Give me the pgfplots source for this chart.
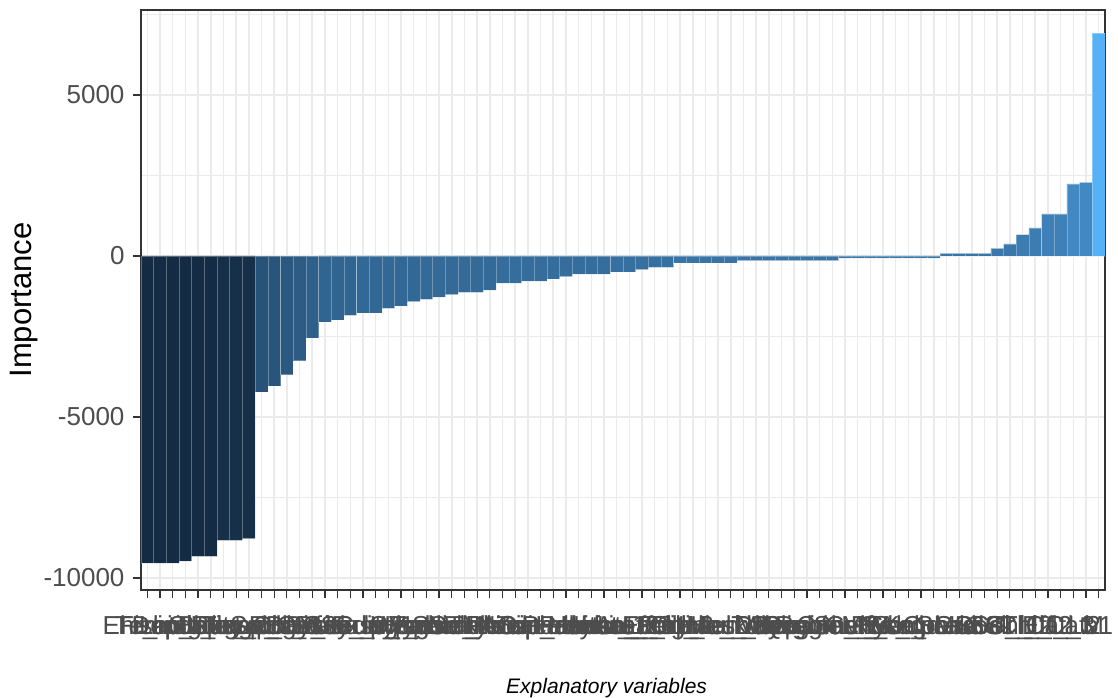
\documentclass[border=0pt]{standalone}
\usepackage{fontspec}
\setmainfont{Liberation Sans}
\usepackage{pgfplots}
\pgfplotsset{compat=1.18}
\definecolor{tickgray}{HTML}{4D4D4D}
\definecolor{gridgray}{HTML}{EBEBEB}
\definecolor{framegray}{HTML}{333333}
% fill colours taken along the low-high gradient, by value
\definecolor{g1}{RGB}{19,44,68}
\definecolor{g2}{RGB}{22,48,74}
\definecolor{g3}{RGB}{40,83,121}
\definecolor{g4}{RGB}{40,85,123}
\definecolor{g5}{RGB}{42,88,127}
\definecolor{g6}{RGB}{44,91,131}
\definecolor{g7}{RGB}{46,96,139}
\definecolor{g8}{RGB}{48,101,145}
\definecolor{g9}{RGB}{50,104,149}
\definecolor{g10}{RGB}{51,106,152}
\definecolor{g11}{RGB}{53,109,156}
\definecolor{g12}{RGB}{54,112,160}
\definecolor{g13}{RGB}{56,116,166}
\definecolor{g14}{RGB}{57,118,168}
\definecolor{g15}{RGB}{58,120,171}
\definecolor{g16}{RGB}{60,124,176}
\definecolor{g17}{RGB}{62,128,183}
\definecolor{g18}{RGB}{66,136,194}
\definecolor{g19}{RGB}{86,177,247}
\pgfplotsset{gbar/.style={ybar, bar width=1, bar shift=0pt, draw=white, draw opacity=0.3, line width=0.6pt, fill=#1}}
\begin{document}
\begin{tikzpicture}
\begin{axis}[
  at={(0pt,0pt)}, anchor=south west,
  scale only axis, width=964pt, height=580pt,
  xmin=0.5, xmax=76.5, ymin=-10374, ymax=7640,
  scaled y ticks=false,
  xtick={1,...,76},
  xticklabels={Ehr\_ind,Fishing,Temp\_bot,Latitude,Depth\_max,Bathy,Slope\_sd,Rugged,Dist\_port,Temp\_surf,Sal\_bot,Chl\_a,Rugosity,Bay\_idx,Year,CPUE\_lag,Biomass\_1,Gear\_type,Sediment,Curr\_spd,Wind,Oxygen,pH\_mean,Turbidity,Vessel\_len,Month,SST\_anom,NAO,Precip,Nitrate,Phosphate,Silicate,Zoo\_dens,Prey,Predators,Habitat\_1,Habitat\_2,Habitat\_3,Lon\_cell,Lat\_cell,Area\_km2,Effort\_h,Crew,Trip\_len,Engine\_kW,Mesh,Haul\_dur,Haul\_dep,Tide,Moon,Daylight,Season,Quarter,Region\_N,Region\_S,Coast\_d,Shelf\_d,Canyon,MPA\_d,River\_d,Kelp,Seagrass,Coral,Sand,Mud,Gravel,Rock,SST\_l1,SST\_l2,Chl\_l1,Chl\_l2,Eff\_l,Cat\_3,Cat2,LM,b1},
  ytick={-10000,-5000,0,5000},
  yticklabels={-10000,-5000,0,5000},
  minor ytick={-7500,-2500,2500,7500},
  xmajorgrids, ymajorgrids, yminorgrids,
  major grid style={gridgray, line width=1.5pt},
  minor grid style={gridgray, line width=1pt},
  axis line style={framegray, line width=1.2pt},
  tick style={framegray, line width=1.2pt},
  major tick length=8pt, minor tick length=0pt,
  tick align=outside, xtick pos=bottom, ytick pos=left,
  xticklabel style={font=\fontsize{26}{30}\selectfont, text=tickgray, anchor=base, yshift=-36pt},
  yticklabel style={font=\fontsize{26}{30}\selectfont, text=tickgray, xshift=-5pt},
  xlabel={\itshape Explanatory variables},
  ylabel={Importance},
  xlabel style={font=\fontsize{21}{25}\selectfont, at={(axis description cs:0.483,-0.1776)}, anchor=base},
  ylabel style={font=\fontsize{31}{36}\selectfont, at={(axis description cs:-0.1215,0.5)}, anchor=center},
]
\addplot[gbar=g1] coordinates {(1,-9537) (2,-9537) (3,-9537) (4,-9475) (5,-9330) (6,-9330)};
\addplot[gbar=g2] coordinates {(7,-8836) (8,-8836) (9,-8775)};
\addplot[gbar=g3] coordinates {(10,-4238)};
\addplot[gbar=g4] coordinates {(11,-4033)};
\addplot[gbar=g5] coordinates {(12,-3683)};
\addplot[gbar=g6] coordinates {(13,-3251)};
\addplot[gbar=g7] coordinates {(14,-2551)};
\addplot[gbar=g8] coordinates {(15,-2047) (16,-1986) (17,-1841)};
\addplot[gbar=g9] coordinates {(18,-1770) (19,-1770) (20,-1625) (21,-1553) (22,-1420)};
\addplot[gbar=g10] coordinates {(23,-1348) (24,-1276) (25,-1204) (26,-1132) (27,-1132) (28,-1060)};
\addplot[gbar=g11] coordinates {(29,-844) (30,-844) (31,-782) (32,-782) (33,-710) (34,-638) (35,-566) (36,-566) (37,-566)};
\addplot[gbar=g12] coordinates {(38,-494) (39,-494) (40,-422) (41,-350) (42,-350)};
\addplot[gbar=g13] coordinates {(43,-216) (44,-216) (45,-216) (46,-216) (47,-216) (48,-144) (49,-144) (50,-144) (51,-144) (52,-144) (53,-144) (54,-144) (55,-144)};
\addplot[gbar=g14] coordinates {(56,-70) (57,-70) (58,-70) (59,-70) (60,-70) (61,-70) (62,-70) (63,-70) (64,84) (65,84) (66,84) (67,84)};
\addplot[gbar=g15] coordinates {(68,239) (69,373)};
\addplot[gbar=g16] coordinates {(70,662) (71,870)};
\addplot[gbar=g17] coordinates {(72,1304) (73,1304)};
\addplot[gbar=g18] coordinates {(74,2236) (75,2289)};
\addplot[gbar=g19] coordinates {(76,6917)};
\end{axis}
\pgfresetboundingbox
\useasboundingbox (-141pt,-108pt) rectangle (977pt,590pt);
\end{tikzpicture}
\end{document}
